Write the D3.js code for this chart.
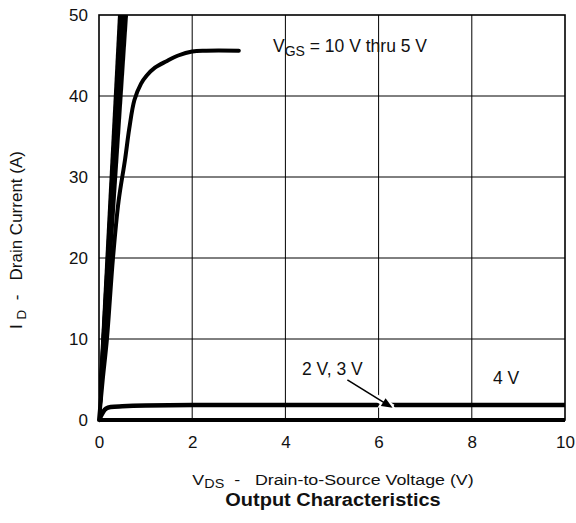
<!DOCTYPE html>
<html><head><meta charset="utf-8">
<script src="https://cdn.jsdelivr.net/npm/d3@7"></script>
<style>
body{margin:0;background:#fff;}
text{font-family:"Liberation Sans",Arial,sans-serif;fill:#111;}
</style></head>
<body>
<svg id="chart" width="576" height="523"></svg>
<script>
// ---- data ----
const xTicks = [0, 2, 4, 6, 8, 10];
const yTicks = [0, 10, 20, 30, 40, 50];
// steep linear-region bundle: VGS = 10 V thru 5 V (V at which I reaches 50 A)
const bundleLabels = ["10 V", "9 V", "8 V", "7 V", "6 V", "5 V"];
const bundleV = [0.45, 0.475, 0.50, 0.53, 0.555, 0.58];
const bundleI = [50, 50, 50, 50, 50, 50];
// saturating curve
const satV = [0, 0.08, 0.17, 0.3, 0.42, 0.56, 0.65, 0.76, 0.9, 1.02, 1.2, 1.45, 1.7, 2.0, 2.3, 3.0];
const satI = [0, 5, 10, 20, 27, 32.2, 36, 39.5, 41.5, 42.5, 43.5, 44.3, 45, 45.5, 45.6, 45.6];
// 4 V curve
const v4V = [0, 0.05, 0.1, 0.15, 0.25, 0.5, 1, 2, 10];
const v4I = [0, 0.6, 1.1, 1.4, 1.6, 1.7, 1.8, 1.85, 1.85];
// 2 V, 3 V curves (lie on zero)
const lowV = [0, 10];
const lowI = [0, 0];

const svg = d3.select("#chart");
const L = 99, R = 565, T = 15, B = 420;
const x = d3.scaleLinear().domain([0, 10]).range([L, R]);
const y = d3.scaleLinear().domain([0, 50]).range([B, T]);
const FF = "'Liberation Sans',Arial,sans-serif";

// grid
const g = svg.append("g");
g.selectAll("line.vg").data(xTicks.slice(1, -1)).join("line")
  .attr("x1", d => x(d)).attr("x2", d => x(d)).attr("y1", T).attr("y2", B)
  .attr("stroke", "#000").attr("stroke-width", 1);
g.selectAll("line.hg").data(yTicks.slice(1, -1)).join("line")
  .attr("y1", d => y(d)).attr("y2", d => y(d)).attr("x1", L).attr("x2", R)
  .attr("stroke", "#000").attr("stroke-width", 1);
// frame
svg.append("rect").attr("x", L).attr("y", T).attr("width", R - L).attr("height", B - T)
  .attr("fill", "none").attr("stroke", "#000").attr("stroke-width", 1.6);

// axes (labels only)
const xAxis = d3.axisBottom(x).tickValues(xTicks).tickSize(0).tickPadding(16).tickFormat(d3.format("d"));
const xa = svg.append("g").attr("transform", `translate(0,${B})`).call(xAxis);
xa.select(".domain").remove();
xa.selectAll("text").attr("font-size", 17).style("font-family", FF).attr("fill", "#111");
const yAxis = d3.axisLeft(y).tickValues(yTicks).tickSize(0).tickPadding(11).tickFormat(d3.format("d"));
const ya = svg.append("g").attr("transform", `translate(${L},0)`).call(yAxis);
ya.select(".domain").remove();
ya.selectAll("text").attr("font-size", 17).style("font-family", FF).attr("fill", "#111");

// clip
svg.append("clipPath").attr("id", "clip").append("rect")
  .attr("x", L).attr("y", T).attr("width", R - L).attr("height", B - T + 3);
const plot = svg.append("g").attr("clip-path", "url(#clip)");

const line = d3.line().x(d => x(d[0])).y(d => y(d[1])).curve(d3.curveMonotoneX);

// low curves on zero
plot.append("path").datum(lowV.map((v, i) => [v, lowI[i]])).attr("d", line)
  .attr("fill", "none").attr("stroke", "#000").attr("stroke-width", 4);
// 4 V
plot.append("path").datum(v4V.map((v, i) => [v, v4I[i]])).attr("d", line)
  .attr("fill", "none").attr("stroke", "#000").attr("stroke-width", 4.5).attr("stroke-linecap", "round");
// saturating
svg.append("path").datum(satV.map((v, i) => [v, satI[i]])).attr("d", d3.line().x(d => x(d[0])).y(d => y(d[1])).curve(d3.curveCatmullRom.alpha(0.5)))
  .attr("fill", "none").attr("stroke", "#000").attr("stroke-width", 4).attr("stroke-linecap", "round");
// bundle
plot.selectAll("path.b").data(bundleV.map((v, i) => [[0, 0], [v, bundleI[i]]])).join("path")
  .attr("d", d3.line().x(d => x(d[0])).y(d => y(d[1])))
  .attr("fill", "none").attr("stroke", "#000").attr("stroke-width", 4);

// arrow
const a0 = [5.33, 4.95], a1 = [6.3, 1.5];
svg.append("line").attr("x1", x(a0[0])).attr("y1", y(a0[1])).attr("x2", x(a1[0])).attr("y2", y(a1[1]))
  .attr("stroke", "#fff").attr("stroke-width", 7);
const ang = Math.atan2(y(a1[1]) - y(a0[1]), x(a1[0]) - x(a0[0]));
const hx = x(a1[0]), hy = y(a1[1]), hl = 11, hw = 4.5;
const pts = [[hx, hy],
  [hx - hl * Math.cos(ang) + hw * Math.sin(ang), hy - hl * Math.sin(ang) - hw * Math.cos(ang)],
  [hx - hl * Math.cos(ang) - hw * Math.sin(ang), hy - hl * Math.sin(ang) + hw * Math.cos(ang)]];
svg.append("polygon").attr("points", pts.map(p => p.join(",")).join(" "))
  .attr("fill", "#fff").attr("stroke", "#fff").attr("stroke-width", 4);
svg.append("line").attr("x1", x(a0[0])).attr("y1", y(a0[1]))
  .attr("x2", hx - (hl - 2) * Math.cos(ang)).attr("y2", hy - (hl - 2) * Math.sin(ang))
  .attr("stroke", "#000").attr("stroke-width", 1.6);
svg.append("polygon").attr("points", pts.map(p => p.join(",")).join(" ")).attr("fill", "#000");

// annotations
const ann = svg.append("text").attr("x", 273).attr("y", 52).attr("font-size", 17.5);
ann.append("tspan").text("V");
ann.append("tspan").attr("font-size", 14).attr("dy", 4).text("GS");
ann.append("tspan").attr("dy", -4).text(" = 10 V thru 5 V");
svg.append("text").attr("x", 302).attr("y", 375).attr("font-size", 17.5).text("2 V, 3 V");
svg.append("text").attr("x", 493).attr("y", 384).attr("font-size", 17.5).text("4 V");

// axis titles
const xt = svg.append("text").attr("transform", "translate(333,485) scale(1.15,1)")
  .attr("text-anchor", "middle").attr("font-size", 15.5).attr("xml:space", "preserve");
xt.append("tspan").text("V");
xt.append("tspan").attr("font-size", 12.5).attr("dy", 3).text("DS");
xt.append("tspan").attr("dy", -3).text("  -   Drain-to-Source Voltage (V)");
svg.append("text").attr("transform", "translate(333,506) scale(1.08,1)").attr("text-anchor", "middle")
  .attr("font-size", 18.5).attr("font-weight", "bold").text("Output Characteristics");

const yt = svg.append("text").attr("transform", "translate(22,240) rotate(-90)")
  .attr("text-anchor", "middle").attr("font-size", 17).attr("xml:space", "preserve");
yt.append("tspan").text("I ");
yt.append("tspan").attr("font-size", 13.5).attr("dy", 4).text("D");
yt.append("tspan").attr("dy", -4).text("  -   Drain Current (A)");
</script>
</body></html>
